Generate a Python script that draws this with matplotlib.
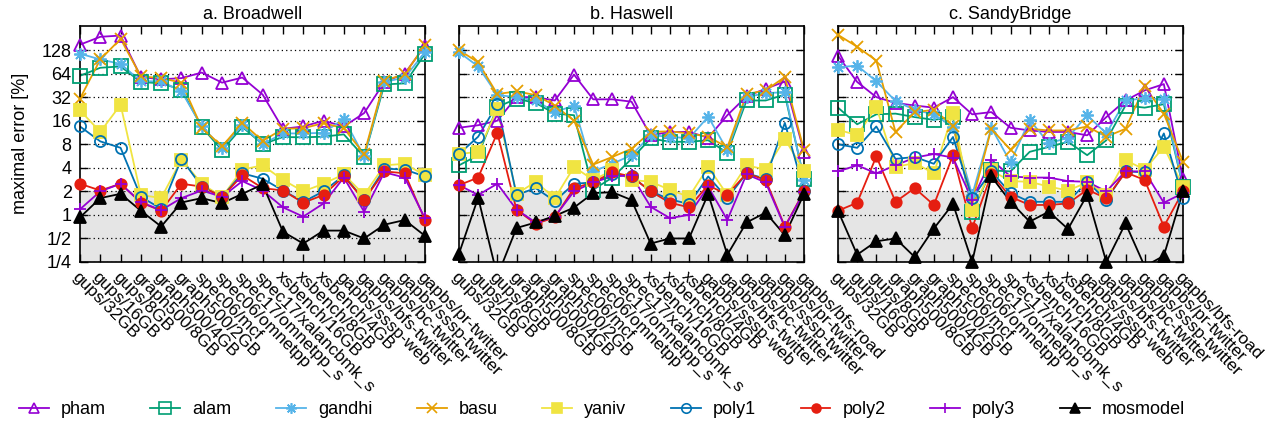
import numpy as np
import matplotlib
matplotlib.use('Agg')
import matplotlib.pyplot as plt
from matplotlib.lines import Line2D
from matplotlib.ticker import NullLocator

plt.rcParams['font.family'] = ['Liberation Sans', 'DejaVu Sans']
plt.rcParams['font.size'] = 13

# benchmarks (Broadwell has no gapbs/bfs-road)
bench = ['gups/32GB', 'gups/16GB', 'gups/8GB', 'graph500/8GB', 'graph500/4GB',
         'graph500/2GB', 'spec06/mcf', 'spec06/omnetpp', 'spec17/omnetpp_s',
         'spec17/xalancbmk_s', 'xsbench/16GB', 'xsbench/8GB', 'xsbench/4GB',
         'gapbs/sssp-web', 'gapbs/bfs-twitter', 'gapbs/bc-twitter',
         'gapbs/sssp-twitter', 'gapbs/pr-twitter', 'gapbs/bfs-road']
bench_broadwell = bench[:18]

titles = ['a. Broadwell', 'b. Haswell', 'c. SandyBridge']
models = ['pham', 'alam', 'gandhi', 'basu', 'yaniv', 'poly1', 'poly2', 'poly3', 'mosmodel']

# maximal error [%]
broadwell_pham = [150, 189, 196, 58, 54, 56, 66, 49, 57, 34.5, 12.6, 13.5, 16, 13.5, 20, 50, 64, 145]
broadwell_alam = [60, 76, 79, 50, 48, 40, 13.3, 6.7, 13.3, 8, 9.9, 9.8, 10, 10.7, 5.5, 46.5, 48, 114]
broadwell_gandhi = [115, 97, 85, 51, 51, 38, 13.5, 7.2, 14, 8, 11, 11, 11.2, 17, 5.6, 50, 57, 120]
broadwell_basu = [30.7, 97, 178, 59, 56, 49, 13, 7.5, 15, 8.8, 12.6, 12.8, 14.9, 12.8, 6, 52, 63, 148]
broadwell_yaniv = [21.7, 11.5, 25.6, 1.8, 1.64, 5.1, 2.5, 1.7, 3.8, 4.3, 2.8, 2.0, 2.5, 3.3, 1.8, 4.3, 4.5, 3.2]
broadwell_poly1 = [13.5, 8.7, 7.2, 1.7, 1.2, 5.2, 2.3, 1.7, 3.4, 2.9, 2.05, 1.47, 2.0, 3.2, 1.55, 3.9, 3.8, 3.1]
broadwell_poly2 = [2.5, 2.05, 2.5, 1.44, 1.13, 2.5, 2.3, 1.7, 3.2, 2.2, 2.05, 1.43, 1.8, 3.1, 1.55, 3.6, 3.4, 0.86]
broadwell_poly3 = [1.18, 2.0, 2.5, 1.45, 1.15, 1.64, 2.05, 1.7, 2.7, 2.05, 1.25, 0.95, 1.4, 3.0, 1.1, 3.5, 3.0, 0.9]
broadwell_mosmodel = [0.93, 1.64, 1.86, 1.13, 0.71, 1.44, 1.64, 1.41, 1.86, 2.45, 0.61, 0.43, 0.63, 0.63, 0.5, 0.75, 0.86, 0.54]

haswell_pham = [13, 14, 16, 32, 32, 29, 62, 30, 30, 28, 10.4, 11.5, 11.5, 9.7, 18.8, 32.7, 41, 50.6, 6.4]
haswell_alam = [4.3, 5.8, 24, 30.5, 27, 19.7, 18.8, 2.1, 3.0, 5.2, 9.5, 8.6, 8.6, 9, 6.2, 29, 29, 34.5, 2.9]
haswell_gandhi = [120, 79, 34, 32, 29, 20.6, 25, 3.6, 4.5, 5.8, 10.4, 10, 9.5, 18, 6.7, 32, 36, 37, 2.8]
haswell_basu = [128, 89, 35, 38, 34, 25, 16, 4.4, 5.5, 7, 11.5, 11.7, 11, 10, 7.3, 35, 39, 58, 6.7]
haswell_yaniv = [6, 6.4, 22.6, 1.85, 2.65, 1.63, 4.1, 2.8, 3.7, 2.8, 2.65, 2.1, 1.7, 4.1, 1.8, 4.3, 3.8, 9.4, 3.6]
haswell_poly1 = [6, 10, 26, 1.8, 2.2, 1.5, 2.5, 2.6, 3.3, 3.1, 2.0, 1.58, 1.38, 3.1, 1.63, 3.4, 2.9, 15, 2.05]
haswell_poly2 = [2.4, 3.0, 11.2, 1.16, 0.77, 0.93, 2.2, 2.6, 3.5, 3.1, 2.0, 1.43, 1.25, 2.4, 1.8, 3.4, 2.8, 0.71, 2.0]
haswell_poly3 = [2.4, 1.8, 2.5, 1.17, 0.8, 0.95, 2.0, 2.6, 3.1, 3.2, 1.27, 0.91, 1.0, 2.3, 0.86, 3.3, 2.6, 0.7, 1.95]
haswell_mosmodel = [0.32, 1.66, 0.165, 0.68, 0.8, 0.97, 1.24, 1.9, 1.95, 1.55, 0.43, 0.5, 0.5, 1.85, 0.31, 0.8, 1.07, 0.55, 1.85]

sandy_pham = [108, 50, 32, 27, 25, 23.5, 32, 19.3, 20.6, 13, 12, 11.5, 11.5, 10.4, 17.8, 29, 39, 47, 2.9]
sandy_alam = [23.5, 14.4, 19.3, 19.7, 17.8, 16.4, 17.8, 1.1, 3.7, 3.6, 6.4, 7.4, 8.6, 5.8, 9, 25, 23.5, 26, 2.3]
sandy_gandhi = [77, 81, 51, 28.5, 22, 19.3, 13.3, 1.8, 13, 4.7, 16.4, 8.2, 9.7, 18.8, 11, 29, 31, 30, 2.3]
sandy_basu = [200, 141, 94, 11.5, 20.6, 22, 13.8, 1.47, 12.6, 6.8, 12.6, 12, 12, 13.5, 10, 12.6, 44, 19.7, 4.8]
sandy_yaniv = [12.3, 10.4, 24, 4.1, 4.6, 3.4, 20, 1.16, 3.7, 2.7, 2.65, 2.3, 2.05, 2.6, 1.8, 5.0, 3.8, 7.4, 2.3]
sandy_poly1 = [8, 7.2, 13.5, 5.2, 5.5, 4.5, 9.9, 1.63, 3.6, 1.9, 1.47, 1.47, 1.47, 2.65, 1.55, 3.6, 3.5, 11, 1.63]
sandy_poly2 = [1.13, 1.43, 5.6, 1.47, 2.2, 1.34, 5.8, 0.68, 3.3, 1.7, 1.34, 1.34, 1.4, 2.1, 1.63, 3.5, 2.8, 0.71, 2.0]
sandy_poly3 = [3.6, 4.3, 3.4, 4.3, 5.4, 6.0, 5.4, 1.55, 5.1, 3.1, 3.0, 3.0, 2.7, 2.65, 2.0, 3.6, 3.6, 1.43, 1.9]
sandy_mosmodel = [1.13, 0.31, 0.46, 0.5, 0.29, 0.67, 1.38, 0.25, 3.1, 1.47, 0.82, 1.1, 0.66, 1.8, 0.25, 0.78, 0.22, 0.3, 2.0]

broadwell = [broadwell_pham, broadwell_alam, broadwell_gandhi, broadwell_basu, broadwell_yaniv,
             broadwell_poly1, broadwell_poly2, broadwell_poly3, broadwell_mosmodel]
haswell = [haswell_pham, haswell_alam, haswell_gandhi, haswell_basu, haswell_yaniv,
           haswell_poly1, haswell_poly2, haswell_poly3, haswell_mosmodel]
sandy = [sandy_pham, sandy_alam, sandy_gandhi, sandy_basu, sandy_yaniv,
         sandy_poly1, sandy_poly2, sandy_poly3, sandy_mosmodel]

yticks = [0.25, 0.5, 1, 2, 4, 8, 16, 32, 64, 128]
ytick_labels = ['1/4', '1/2', '1', '2', '4', '8', '16', '32', '64', '128']

# gnuplot-like point styles
styles = {
    'pham':     dict(color='#9400D3', marker='^', mfc='none', ms=8.5),
    'alam':     dict(color='#009E73', marker='s', mfc='none', ms=9.5),
    'gandhi':   dict(color='#56B4E9', marker=(8, 2, 0), mfc='none', ms=9),
    'basu':     dict(color='#E69F00', marker='x', mfc='none', ms=8),
    'yaniv':    dict(color='#F0E442', marker='s', mfc='#F0E442', ms=8),
    'poly1':    dict(color='#0072B2', marker='o', mfc='none', ms=8),
    'poly2':    dict(color='#E51E10', marker='o', mfc='#E51E10', ms=7.5),
    'poly3':    dict(color='#9400D3', marker='+', mfc='none', ms=9),
    'mosmodel': dict(color='black', marker='^', mfc='black', ms=8.5),
}

YMIN, YMAX = 0.25, 262

fig = plt.figure(figsize=(12.7, 4.25), dpi=100)
lefts = [80, 459, 838]
panels = [(bench_broadwell, broadwell), (bench, haswell), (bench, sandy)]

for k, (labels, data) in enumerate(panels):
    ax = fig.add_axes([lefts[k] / 1270, 1 - 262 / 425, 345 / 1270, (262 - 25.7) / 425])
    x = np.arange(len(labels))
    ax.axhspan(YMIN, 2, color='#e5e5e5', zorder=0, lw=0)
    for name, vals in zip(models, data):
        st = styles[name]
        v = np.array(vals, dtype=float)
        ax.plot(x, v, color=st['color'], lw=1.3, zorder=2)
        # points on the border are drawn whole, points outside are dropped
        vin = np.where((v >= YMIN) & (v <= YMAX), v, np.nan)
        ax.plot(x, vin, ls='none', marker=st['marker'], ms=st['ms'],
                mec=st['color'], mfc=st['mfc'], mew=1.3, clip_on=False, zorder=3)
    ax.set_yscale('log', base=2)
    ax.set_ylim(YMIN, YMAX)
    ax.set_xlim(0, len(labels) - 1)
    ax.set_yticks(yticks)
    ax.yaxis.set_minor_locator(NullLocator())
    if k == 0:
        ax.set_yticklabels(ytick_labels)
        ax.set_ylabel('maximal error [%]', labelpad=9)
    else:
        ax.set_yticklabels([])
    ax.set_xticks(x)
    ax.set_xticklabels(labels, rotation=-45, ha='left', va='top',
                       rotation_mode='anchor', fontsize=12.5)
    ax.tick_params(direction='in', length=6, width=1, top=True, right=True, pad=6)
    ax.tick_params(axis='x', pad=5)
    ax.set_axisbelow(True)
    ax.yaxis.grid(True, color='black', ls=(0, (1, 2.5)), lw=0.9)
    for sp in ax.spines.values():
        sp.set_linewidth(1.2)
    ax.set_title(titles[k], fontsize=13, pad=5)

handles = [Line2D([], [], color=styles[m]['color'], lw=1.3, marker=styles[m]['marker'],
                  ms=styles[m]['ms'] * 0.85, mfc=styles[m]['mfc'], mec=styles[m]['color'], mew=1.2)
           for m in models]
fig.legend(handles, models, loc='center', bbox_to_anchor=(602 / 1270, 1 - 410 / 425),
           ncol=9, frameon=False, fontsize=13, handlelength=1.65, handletextpad=0.67,
           columnspacing=2.47, borderaxespad=0)

fig.savefig('out.png', dpi=100)
